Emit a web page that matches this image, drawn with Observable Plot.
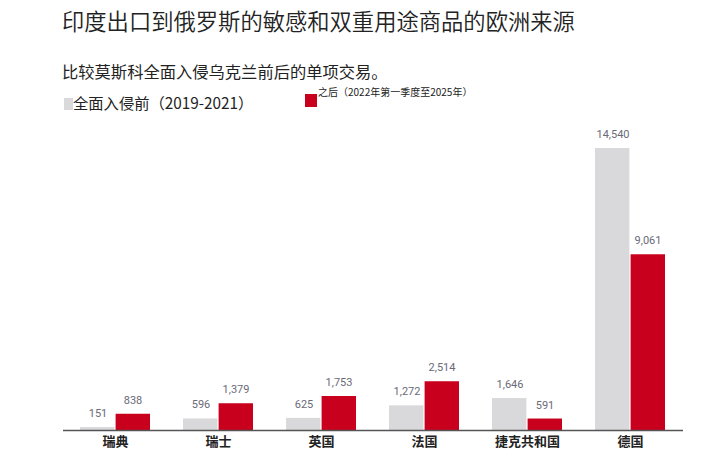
<!DOCTYPE html>
<html><head><meta charset="utf-8">
<script src="https://cdn.jsdelivr.net/npm/d3@7"></script>
<script src="https://cdn.jsdelivr.net/npm/@observablehq/plot@0.6"></script>
<style>
body{margin:0;background:#fff;font-family:"Noto Sans CJK SC","Noto Sans",sans-serif;}
#wrap{position:relative;width:719px;height:472px;overflow:hidden;}
.t{position:absolute;left:62px;top:4px;font-size:22.3px;color:#222;white-space:nowrap;font-weight:350;}
.s{position:absolute;left:62px;top:59px;font-size:16.3px;color:#222;white-space:nowrap;}
.lg1{position:absolute;left:64px;top:91px;font-size:15.3px;color:#222;white-space:nowrap;}
.lg2{position:absolute;left:305px;top:84px;font-size:10px;color:#222;white-space:nowrap;}
.sw{display:inline-block;vertical-align:middle;}
#chart{position:absolute;left:0;top:112px;}
</style></head><body>
<div id="wrap">
<div class="t">印度出口到俄罗斯的敏感和双重用途商品的欧洲来源</div>
<div class="s">比较莫斯科全面入侵乌克兰前后的单项交易。</div>
<div class="lg1"><span class="sw" style="width:9px;height:12px;background:#d9d9dc;margin-right:0px;position:relative;top:-1px"></span>全面入侵前（2019-2021）</div>
<div class="lg2"><span class="sw" style="width:12px;height:13px;background:#c8001e;position:relative;top:7px;margin-right:1px"></span>之后（2022年第一季度至2025年）</div>
<div id="chart"></div>
</div>
<script>
const countries = ["瑞典","瑞士","英国","法国","捷克共和国","德国"];
const before = [151, 596, 625, 1272, 1646, 14540];
const after = [838, 1379, 1753, 2514, 591, 9061];

const rows = countries.map((c,i)=>({country:c, before:before[i], after:after[i]}));
const fmt = d3.format(",");
const half = 35.6;

const chart = Plot.plot({
  width: 719, height: 360,
  marginLeft: 63, marginRight: 36, marginTop: 36, marginBottom: 42,
  style: {fontFamily: "Roboto, 'Noto Sans CJK SC', sans-serif", background: "transparent"},
  x: {domain: countries, paddingInner: 0.32, paddingOuter: 0.16, label: null},
  y: {domain: [0, d3.max(before)], axis: null},
  marks: [
    Plot.barY(rows, {x: "country", y: "before", fill: "#d9d9dc", insetRight: half}),
    Plot.barY(rows, {x: "country", y: "after", fill: "#c8001e", insetLeft: half}),
    Plot.text(rows, {x: "country", y: "before", text: d => fmt(d.before), dx: -17.5, dy: -14, fill: "#6a6a78", fontSize: 11}),
    Plot.text(rows, {x: "country", y: "after", text: d => fmt(d.after), dx: 17.5, dy: -14, fill: "#6a6a78", fontSize: 11}),
    Plot.ruleY([0], {stroke: "#555", strokeWidth: 1.5}),
    Plot.axisX({tickSize: 0, tickPadding: 6, fontSize: 13, fontWeight: 600, fill: "#222", label: null, fontFamily: "'Noto Sans CJK SC', sans-serif"})
  ]
});
document.getElementById("chart").appendChild(chart);
</script>
</body></html>
